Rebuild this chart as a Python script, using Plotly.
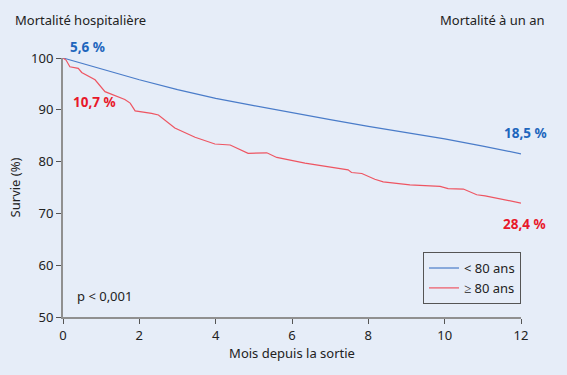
import plotly.graph_objects as go

# Survival curves (months since discharge, survival %)
months_lt80 = [0, 1, 2, 3, 4, 5, 6, 7, 8, 9, 10, 11, 12]
surv_lt80 = [100, 97.9, 95.8, 93.9, 92.2, 90.8, 89.4, 88.1, 86.8, 85.6, 84.4, 83.0, 81.5]

months_ge80 = [0, 0.08, 0.18, 0.40, 0.49, 0.84, 1.10, 1.62, 1.76, 1.89, 2.32, 2.50, 2.93,
               3.46, 3.98, 4.38, 4.85, 5.34, 5.60, 6.34, 7.47, 7.56, 7.83, 8.17, 8.39,
               9.09, 9.88, 10.09, 10.49, 10.84, 11.06, 11.45, 12.0]
surv_ge80 = [100, 99.6, 98.3, 98.0, 97.2, 95.8, 93.5, 92.0, 91.3, 89.8, 89.3, 89.0, 86.5,
             84.7, 83.4, 83.2, 81.6, 81.7, 80.8, 79.7, 78.4, 77.9, 77.7, 76.6, 76.1,
             75.5, 75.2, 74.8, 74.7, 73.6, 73.4, 72.8, 72.0]

series_names = ["< 80 ans", "\u2265 80 ans"]
x_ticks = [0, 2, 4, 6, 8, 10, 12]
y_ticks = [50, 60, 70, 80, 90, 100]

BG = "#e6edf8"
BLUE_LINE = "#4a7cc9"
RED_LINE = "#ee5562"
BLUE_TXT = "#1e66bd"
RED_TXT = "#e8182a"
FONT = "Noto Sans"

fig = go.Figure()
fig.add_trace(go.Scatter(x=months_lt80, y=surv_lt80, mode="lines", name=series_names[0],
                         line=dict(color=BLUE_LINE, width=1.2)))
fig.add_trace(go.Scatter(x=months_ge80, y=surv_ge80, mode="lines", name=series_names[1],
                         line=dict(color=RED_LINE, width=1.2)))

axis_common = dict(showgrid=False, zeroline=False, showline=True, linecolor="#909090",
                   linewidth=2, ticks="outside", ticklen=5, tickcolor="#555",
                   tickfont=dict(family=FONT, size=13, color="#222"))

fig.update_xaxes(range=[0, 12], tickvals=x_ticks, **axis_common,
                 title=dict(text="Mois depuis la sortie", standoff=6,
                            font=dict(family=FONT, size=13, color="#222")))
fig.update_yaxes(range=[50, 100], tickvals=y_ticks, **axis_common,
                 title=dict(text="Survie (%)", standoff=8,
                            font=dict(family=FONT, size=13, color="#222")))


def ann(text, x, y, color, bold=False, xanchor="left", size=13):
    fig.add_annotation(text=("<b>%s</b>" % text) if bold else text, x=x, y=y,
                       xref="paper", yref="paper", showarrow=False,
                       xanchor=xanchor, yanchor="middle",
                       font=dict(family=FONT, size=size, color=color))


ann("Mortalité hospitalière", -0.109, 1.147, "#222")
ann("Mortalité à un an", 1.057, 1.147, "#222", xanchor="right")
ann("5,6 %", 0.012, 1.042, BLUE_TXT, bold=True, size=13.5)
ann("10,7 %", 0.018, 0.83, RED_TXT, bold=True, size=13.5)
ann("18,5 %", 1.061, 0.71, BLUE_TXT, bold=True, xanchor="right", size=13.5)
ann("28,4 %", 1.059, 0.359, RED_TXT, bold=True, xanchor="right", size=13.5)
ann("p < 0,001", 0.026, 0.081, "#222")

fig.update_layout(
    width=567, height=375,
    paper_bgcolor=BG, plot_bgcolor=BG,
    margin=dict(l=63, r=46, t=58, b=58),
    showlegend=True,
    legend=dict(x=1.0, y=0.05, xanchor="right", yanchor="bottom",
                bgcolor="rgba(0,0,0,0)", bordercolor="#555", borderwidth=1,
                font=dict(family=FONT, size=13, color="#222"),
                itemwidth=30, tracegroupgap=0),
)

fig.write_html("out.html", config={"displayModeBar": False},
               post_script="document.body.style.margin='0';document.body.style.background='%s';" % BG)
